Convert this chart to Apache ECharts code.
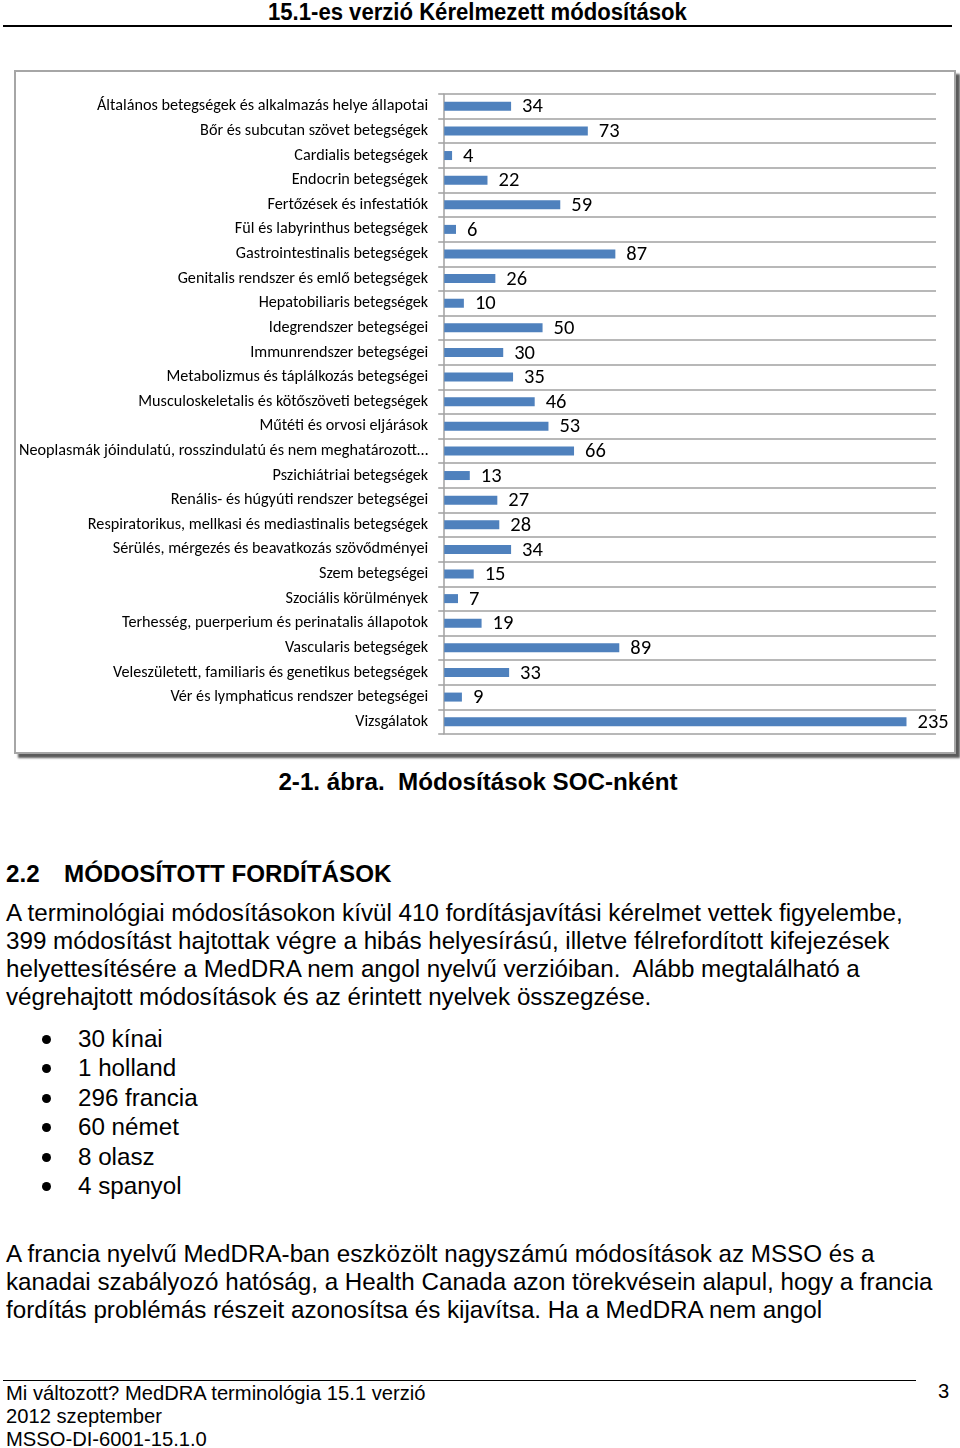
<!DOCTYPE html>
<html><head><meta charset="utf-8">
<script src="https://cdn.jsdelivr.net/npm/echarts@6/dist/echarts.min.js"></script>
<style>
body{margin:0;width:960px;height:1448px;position:relative;background:#fff;font-family:'Liberation Sans',Arial,sans-serif;color:#000;overflow:hidden}
.abs{position:absolute;white-space:nowrap}
.narrow{font-family:'Liberation Sans',Arial,sans-serif;transform-origin:0 0;display:inline-block}
.p{font-size:24.2px;line-height:28px}
.bul{position:absolute;left:42px;width:9px;height:9px;border-radius:50%;background:#000}
</style></head><body>
<div class="abs narrow" id="hdr" style="left:268px;top:0;font-weight:bold;font-size:23px;line-height:24px">15.1-es verzió Kérelmezett módosítások</div>
<div class="abs" style="left:3px;top:25px;width:949px;height:2px;background:#000"></div>

<div style="position:absolute;left:14px;top:70px;width:938px;height:680px;border:2px solid #a6a6a6;box-shadow:4px 4px 2px #5a5a5a"></div>
<div id="chart" style="position:absolute;left:16px;top:72px;width:938px;height:680px"></div>

<div class="abs" style="left:0;width:956px;top:768px;text-align:center;font-weight:bold;font-size:24.2px;line-height:28px">2-1. ábra.&nbsp; Módosítások SOC-nként</div>

<div class="abs" style="left:6px;top:860px;font-weight:bold;font-size:24.2px;line-height:28px">2.2</div>
<div class="abs" style="left:64px;top:860px;font-weight:bold;font-size:24.2px;line-height:28px">MÓDOSÍTOTT FORDÍTÁSOK</div>

<div class="abs p" style="left:6px;top:899px">A terminológiai módosításokon kívül 410 fordításjavítási kérelmet vettek figyelembe,<br>399 módosítást hajtottak végre a hibás helyesírású, illetve félrefordított kifejezések<br>helyettesítésére a MedDRA nem angol nyelvű verzióiban.&nbsp; Alább megtalálható a<br>végrehajtott módosítások és az érintett nyelvek összegzése.</div>

<div id="bullets"></div>

<div class="abs p" style="left:6px;top:1240px">A francia nyelvű MedDRA-ban eszközölt nagyszámú módosítások az MSSO és a<br>kanadai szabályozó hatóság, a Health Canada azon törekvésein alapul, hogy a francia<br>fordítás problémás részeit azonosítsa és kijavítsa. Ha a MedDRA nem angol</div>

<div class="abs" style="left:3px;top:1380px;width:913px;height:1px;background:#000"></div>
<div class="abs narrow" id="ftr" style="left:6px;top:1381px;font-size:21px;line-height:23px"><span id="ftr1">Mi változott? MedDRA terminológia 15.1 verzió</span><br>2012 szeptember<br>MSSO-DI-6001-15.1.0</div>
<div class="abs narrow" id="pg" style="left:938px;top:1379px;font-size:21px;line-height:23px">3</div>

<script>
const categories = [
  "Általános betegségek és alkalmazás helye állapotai",
  "Bőr és subcutan szövet betegségek",
  "Cardialis betegségek",
  "Endocrin betegségek",
  "Fertőzések és infestatiók",
  "Fül és labyrinthus betegségek",
  "Gastrointestinalis betegségek",
  "Genitalis rendszer és emlő betegségek",
  "Hepatobiliaris betegségek",
  "Idegrendszer betegségei",
  "Immunrendszer betegségei",
  "Metabolizmus és táplálkozás betegségei",
  "Musculoskeletalis és kötőszöveti betegségek",
  "Műtéti és orvosi eljárások",
  "Neoplasmák jóindulatú, rosszindulatú és nem meghatározott…",
  "Pszichiátriai betegségek",
  "Renális- és húgyúti rendszer betegségei",
  "Respiratorikus, mellkasi és mediastinalis betegségek",
  "Sérülés, mérgezés és beavatkozás szövődményei",
  "Szem betegségei",
  "Szociális körülmények",
  "Terhesség, puerperium és perinatalis állapotok",
  "Vascularis betegségek",
  "Veleszületett, familiaris és genetikus betegségek",
  "Vér és lymphaticus rendszer betegségei",
  "Vizsgálatok"
];
const values = [34, 73, 4, 22, 59, 6, 87, 26, 10, 50, 30, 35, 46, 53, 66, 13, 27, 28, 34, 15, 7, 19, 89, 33, 9, 235];
const bulletItems = ["30 kínai", "1 holland", "296 francia", "60 német", "8 olasz", "4 spanyol"];

// narrow text emulation (Arial Narrow not installed)
const hdr = document.getElementById('hdr');
hdr.style.transform = 'scaleX(' + (419 / hdr.offsetWidth) + ')';
const f1 = document.getElementById('ftr1');
const fs = 420 / f1.offsetWidth;
document.getElementById('ftr').style.transform = 'scaleX(' + fs + ')';
document.getElementById('pg').style.transform = 'scaleX(' + fs + ')';

// bullets
const bl = document.getElementById('bullets');
bulletItems.forEach((t, i) => {
  const yc = 1039 + i * 29.4;
  const d = document.createElement('div');
  d.className = 'bul';
  d.style.top = (yc - 4) + 'px';
  bl.appendChild(d);
  const s = document.createElement('div');
  s.className = 'abs p';
  s.style.left = '78px';
  s.style.top = (yc - 14) + 'px';
  s.textContent = t;
  bl.appendChild(s);
});

const chart = echarts.init(document.getElementById('chart'), null, {renderer: 'canvas'});
const lblFont = "Carlito, Lato, 'Open Sans', sans-serif";
chart.setOption({
  animation: false,
  backgroundColor: '#fff',
  grid: {left: 426, top: 22, width: 494, height: 640, containLabel: false},
  xAxis: {
    type: 'value', min: 0, max: 250,
    axisLine: {show: false}, axisTick: {show: false}, axisLabel: {show: false}, splitLine: {show: false}
  },
  yAxis: {
    type: 'category', data: categories, inverse: true, boundaryGap: true,
    axisLine: {show: true, lineStyle: {color: '#a0a0a0', width: 1.5}},
    axisTick: {show: true, length: 6, lineStyle: {color: '#a0a0a0', width: 1.5}},
    splitLine: {show: true, lineStyle: {color: '#a0a0a0', width: 1.5}},
    axisLabel: {margin: 16, fontSize: 16.2, color: '#000', fontFamily: lblFont, interval: 0}
  },
  series: [{
    type: 'bar', data: values, barWidth: 9,
    itemStyle: {color: '#4f81bd'},
    label: {show: true, position: 'right', distance: 11, fontSize: 20.5, color: '#000', fontFamily: lblFont, offset: [0, 1]}
  }]
});
</script>
</body></html>
